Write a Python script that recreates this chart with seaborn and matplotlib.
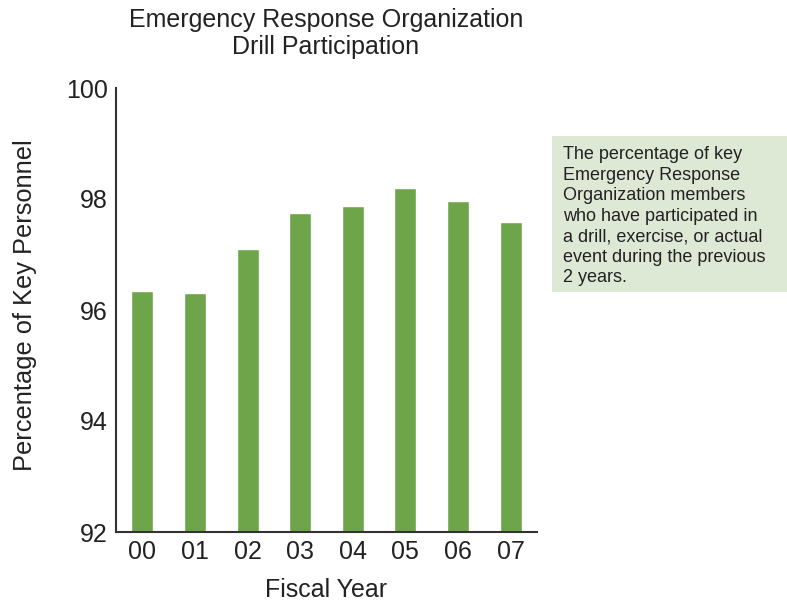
import matplotlib
matplotlib.use("Agg")
import matplotlib.pyplot as plt
import seaborn as sns
import pandas as pd
from matplotlib.patches import Rectangle

years = ["00", "01", "02", "03", "04", "05", "06", "07"]
values = [96.34, 96.31, 97.10, 97.75, 97.88, 98.20, 97.97, 97.59]
yticks = [92, 94, 96, 98, 100]

title = "Emergency Response Organization\nDrill Participation"
note = ("The percentage of key\nEmergency Response\nOrganization members\n"
        "who have participated in\na drill, exercise, or actual\n"
        "event during the previous\n2 years.")

sns.set_theme(style="white")
plt.rcParams['font.family'] = ['Liberation Sans', 'DejaVu Sans']

df = pd.DataFrame({"year": years, "value": values})

fig = plt.figure(figsize=(7.87, 6.03), dpi=100)
ax = fig.add_axes([116/787, 1-532/603, (537-116)/787, (532-88)/603])

sns.barplot(data=df, x="year", y="value", color="#6fa54a", width=0.42,
            saturation=1, ax=ax, order=years)

ax.set_ylim(92, 100)
ax.set_xlim(-0.5, 7.5)
ax.set_yticks(yticks)
ax.set_yticklabels([str(t) for t in yticks])
ax.tick_params(axis='both', length=0, labelsize=18, colors="#222222", pad=6)
ax.set_xlabel("Fiscal Year", fontsize=18, color="#222222", labelpad=10)
ax.set_ylabel("Percentage of Key Personnel", fontsize=18.3, color="#222222", labelpad=21)
ax.yaxis.label.set_y(0.51)
for s in ["top", "right"]:
    ax.spines[s].set_visible(False)
for s in ["left", "bottom"]:
    ax.spines[s].set_color("#333333")
    ax.spines[s].set_linewidth(1.5)

fig.text(326/787, 1-8/603, title, ha="center", va="top", fontsize=18,
         color="#222222", linespacing=1.18)

fig.patches.append(Rectangle((552/787, 1-292/603), (787-552)/787, (292-136)/603,
                             transform=fig.transFigure, facecolor="#dde8d5",
                             edgecolor="none", zorder=0))
fig.text(563/787, 1-146/603, note, ha="left", va="top", fontsize=13,
         color="#222222", linespacing=1.27)

fig.savefig("out.png", dpi=100)
